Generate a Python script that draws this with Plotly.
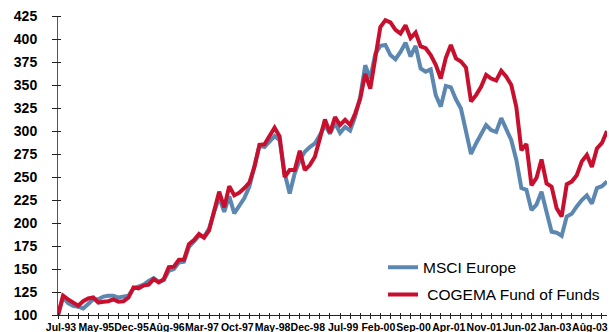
import plotly.graph_objects as go

# Index levels (start = 100)
msci_europe = [
    100, 119, 113, 110, 109, 107, 112, 117, 117, 120,
    121, 121, 119, 120, 121, 129, 131, 133, 137, 140,
    136, 138, 148, 150, 157, 158, 174, 180, 186, 185,
    194, 212, 228, 212, 229, 210.5, 218, 227, 239.5, 261,
    284, 282.5, 288.5, 294.5, 290, 254, 232, 254, 268.5, 277.5,
    282.5, 286.5, 295.5, 306.5, 297, 308.5, 298, 304.5, 300.5, 315.5,
    337, 371.5, 357, 384, 392.5, 393.5, 382.5, 378, 386, 396,
    381, 392.5, 368, 364.5, 367, 339, 326.5, 349, 347.5, 334.5,
    324.5, 301, 275, 286.5, 296, 306.5, 301, 299, 314, 303,
    290, 268.5, 238, 236, 214, 220, 234, 212, 190.5, 189.5,
    186, 207, 210, 218, 225, 230, 221, 238, 240, 245,
]

cogema_fof = [
    100, 121, 117, 114, 110, 115, 118, 119, 113.5, 114.5,
    115, 117, 114.5, 115, 119, 130, 129, 132, 133, 139,
    135.5, 139, 152, 152.5, 160, 160, 177, 181.5, 188, 184,
    192, 213, 234, 217, 240, 230, 233, 238, 244, 261,
    285, 285.5, 294, 303.5, 294, 250, 257.5, 257.5, 278.5, 257.5,
    263, 272, 292, 312.5, 298, 315, 306.5, 312, 306.5, 319,
    335, 362, 346, 378, 413, 420.5, 418, 410, 406, 415,
    401, 407, 392, 390, 382.5, 372, 357, 379.5, 393.5, 379,
    375.5, 369, 332, 339, 348, 361, 357, 355, 365.5, 359,
    350, 326, 279, 286, 241, 249, 269, 243, 239.5, 216,
    207, 242, 245, 252, 267, 274, 261, 281, 287, 300,
]

date_labels = [
    "Jul-93", "May-95", "Dec-95", "Aûg-96", "Mar-97", "Oct-97",
    "May-98", "Dec-98", "Jul-99", "Feb-00", "Sep-00", "Apr-01",
    "Nov-01", "Jun-02", "Jan-03", "Aûg-03",
]
LABEL_STEP = 7   # one date label every 7 periods
TICK_STEP = 2    # one tick mark every 2 periods

y_ticks = list(range(100, 426, 25))

periods = list(range(len(cogema_fof)))
tick_pos = periods[::TICK_STEP]
label_pos = [k * LABEL_STEP for k in range(len(date_labels))]

BLUE = "#5B87B1"
RED = "#C8102E"
AXIS = "#222222"
FONT = "Liberation Sans, Arial, sans-serif"

W, H = 609, 332
M = dict(l=58, r=2, t=16, b=17)
plot_w = W - M["l"] - M["r"]
plot_h = H - M["t"] - M["b"]

fig = go.Figure()
# Blue series on the main axes (carry the axis lines and labels)
fig.add_trace(go.Scatter(
    x=periods, y=msci_europe, mode="lines", name="MSCI Europe",
    line=dict(color=BLUE, width=4), legendgroup="a",
))
# Red series on the overlay axes, which draw the crossing tick marks
fig.add_trace(go.Scatter(
    x=periods, y=cogema_fof, mode="lines", name="\u00a0COGEMA Fund of Funds",
    line=dict(color=RED, width=4), legendgroup="b",
    xaxis="x2", yaxis="y2",
))

xr = [0, len(periods) - 1]
yr = [100, 425]

fig.update_layout(
    width=W, height=H,
    margin=M,
    paper_bgcolor="white", plot_bgcolor="white",
    showlegend=True,
    legend=dict(
        x=0.592, y=0.215, xanchor="left", yanchor="top",
        font=dict(family=FONT, size=15.5, color="#000"),
        bgcolor="rgba(0,0,0,0)", tracegroupgap=4, itemwidth=30,
    ),
    xaxis=dict(
        range=xr, showgrid=False, zeroline=False, automargin=False,
        showline=True, linecolor=AXIS, linewidth=1,
        tickmode="array", tickvals=label_pos, ticktext=date_labels,
        ticks="", ticklabelstandoff=2, ticklabelshift=3, tickangle=0,
        tickfont=dict(family=FONT, size=10.5, color="#000", weight="bold"),
    ),
    xaxis2=dict(
        range=xr, overlaying="x", anchor="free", position=3 / plot_h,
        side="bottom", showgrid=False, zeroline=False, showline=False,
        automargin=False,
        tickmode="array", tickvals=tick_pos, ticks="outside",
        ticklen=6, tickcolor=AXIS, showticklabels=False,
    ),
    yaxis=dict(
        range=yr, showgrid=False, zeroline=False, automargin=False,
        showline=True, linecolor="#555555", linewidth=1,
        tickmode="array", tickvals=y_ticks, ticks="outside",
        ticklen=5, tickcolor=AXIS, ticklabelstandoff=12,
        tickfont=dict(family=FONT, size=14, color="#000", weight="bold"),
    ),
    yaxis2=dict(
        range=yr, overlaying="y", anchor="free", position=3 / plot_w,
        side="left", showgrid=False, zeroline=False, showline=False,
        automargin=False,
        tickmode="array", tickvals=y_ticks, ticks="outside",
        ticklen=8, tickcolor=AXIS, showticklabels=False,
    ),
)

fig.write_html("out.html")
